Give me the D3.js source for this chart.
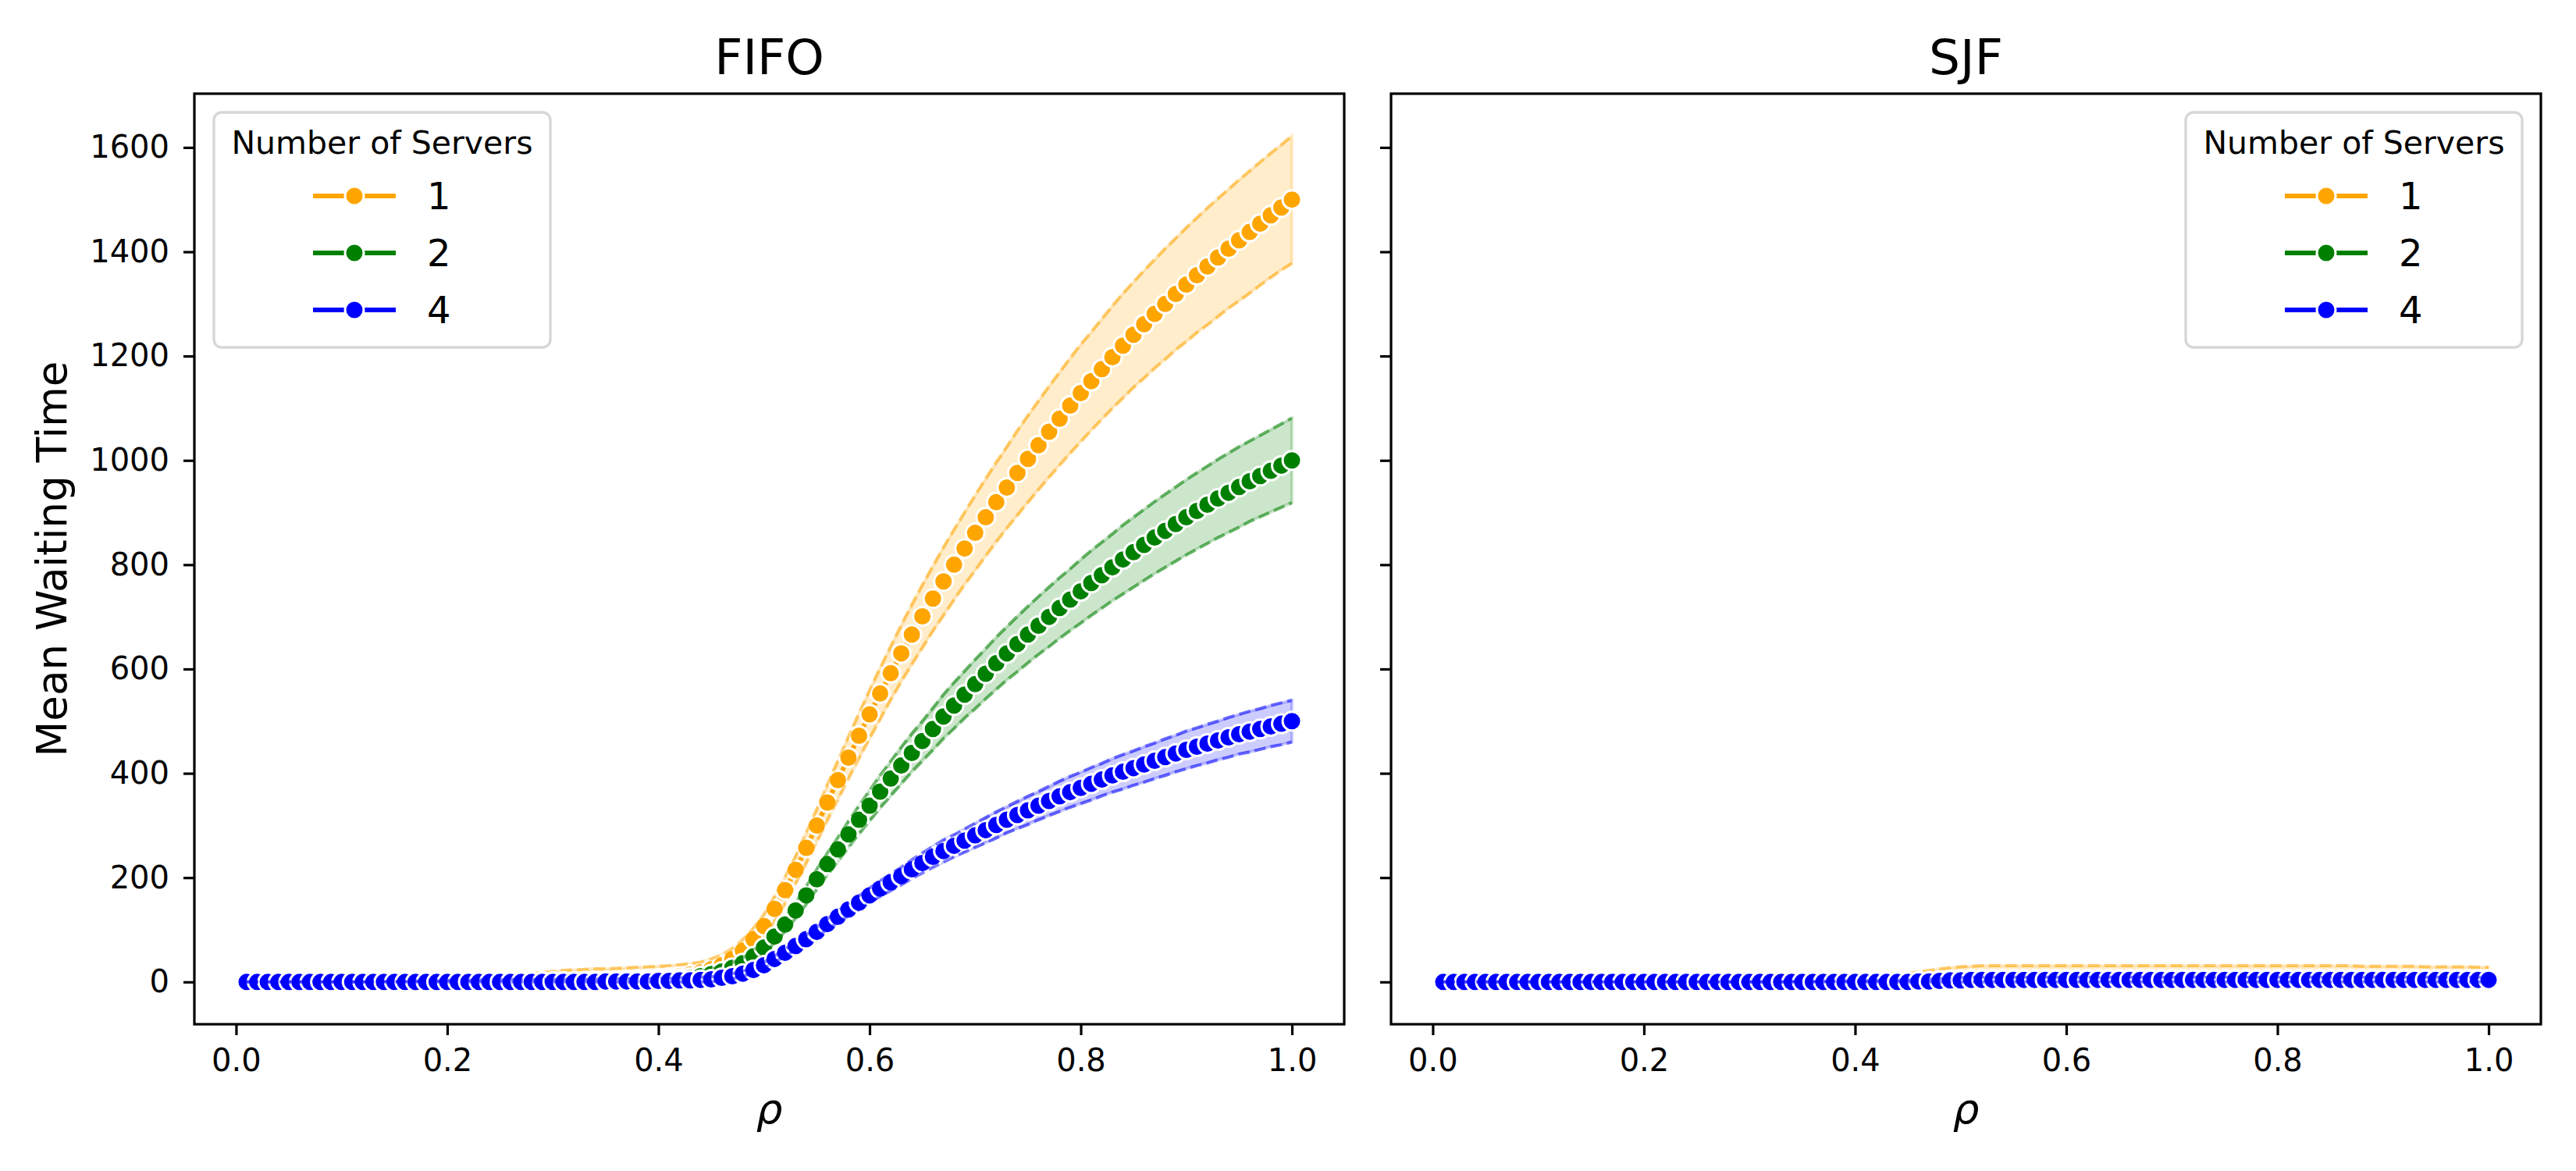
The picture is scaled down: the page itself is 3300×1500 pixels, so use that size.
<!DOCTYPE html>
<html>
<head>
<meta charset="utf-8">
<script src="https://cdn.jsdelivr.net/npm/d3@7"></script>
<style>
	html, body { margin: 0; padding: 0; background: #ffffff; }
	svg { display: block; font-family: "DejaVu Sans", sans-serif; }
</style>
</head>
<body>
<div id="chart"></div>
<script>
'use strict';

/* 	-----------------------------------
	Data
	----------------------------------- */

const rho = [
	0.01, 0.02, 0.03, 0.04, 0.05, 0.06, 0.07, 0.08, 0.09, 0.10,
	0.11, 0.12, 0.13, 0.14, 0.15, 0.16, 0.17, 0.18, 0.19, 0.20,
	0.21, 0.22, 0.23, 0.24, 0.25, 0.26, 0.27, 0.28, 0.29, 0.30,
	0.31, 0.32, 0.33, 0.34, 0.35, 0.36, 0.37, 0.38, 0.39, 0.40,
	0.41, 0.42, 0.43, 0.44, 0.45, 0.46, 0.47, 0.48, 0.49, 0.50,
	0.51, 0.52, 0.53, 0.54, 0.55, 0.56, 0.57, 0.58, 0.59, 0.60,
	0.61, 0.62, 0.63, 0.64, 0.65, 0.66, 0.67, 0.68, 0.69, 0.70,
	0.71, 0.72, 0.73, 0.74, 0.75, 0.76, 0.77, 0.78, 0.79, 0.80,
	0.81, 0.82, 0.83, 0.84, 0.85, 0.86, 0.87, 0.88, 0.89, 0.90,
	0.91, 0.92, 0.93, 0.94, 0.95, 0.96, 0.97, 0.98, 0.99, 1.00
];

const servers = ["1", "2", "4"];
const panelTitles = ["FIFO", "SJF"];
const xTicks = [0.0, 0.2, 0.4, 0.6, 0.8, 1.0];
const yTicks = [0, 200, 400, 600, 800, 1000, 1200, 1400, 1600];

// FIFO, 1 server
const fifoMean1 = [
	0, 0, 0, 0, 0, 0, 0, 0, 0, 0,
	0, 0, 0, 0, 0, 0, 0, 0, 0, 0,
	0, 0, 0, 0, 0, 1, 1, 1, 1, 1,
	1, 1, 2, 2, 2, 3, 4, 5, 6, 7,
	9, 11, 14, 18, 24, 32, 44, 60, 82, 107,
	140, 176, 215, 257, 300, 344, 387, 430, 472, 513,
	553, 592, 630, 666, 701, 735, 768, 800, 831, 861,
	891, 920, 948, 976, 1003, 1029, 1055, 1080, 1105, 1129,
	1152, 1175, 1198, 1220, 1241, 1261, 1281, 1300, 1319, 1337,
	1355, 1372, 1389, 1406, 1422, 1438, 1454, 1470, 1485, 1500
];
const fifoLow1 = [
	0, 0, 0, 0, 0, 0, 0, 0, 0, 0,
	0, 0, 0, 0, 0, 0, 0, 0, 0, 0,
	0, 0, 0, 0, 0, 0, 0, 0, 0, 0,
	0, 0, 0, 0, 0, 0, 0, 0, 0, 0,
	0, 0, 0, 0, 4, 12, 24, 39, 61, 85,
	116, 151, 189, 228, 269, 310, 350, 390, 429, 467,
	504, 541, 576, 609, 641, 673, 703, 733, 762, 789,
	817, 844, 870, 895, 920, 944, 968, 991, 1014, 1036,
	1058, 1079, 1100, 1120, 1140, 1158, 1177, 1194, 1212, 1228,
	1245, 1260, 1276, 1292, 1306, 1321, 1336, 1351, 1365, 1378
];
const fifoHigh1 = [
	0, 0, 0, 0, 0, 0, 0, 0, 0, 0,
	0, 0, 0, 0, 0, 1, 1, 2, 2, 3,
	4, 5, 7, 8, 10, 12, 14, 16, 18, 20,
	22, 23, 24, 25, 25, 26, 27, 28, 29, 30,
	31, 33, 35, 38, 44, 52, 64, 81, 103, 129,
	164, 201, 241, 286, 331, 378, 424, 470, 515, 559,
	602, 643, 684, 723, 761, 797, 833, 867, 900, 933,
	965, 996, 1026, 1057, 1086, 1114, 1142, 1169, 1196, 1222,
	1246, 1271, 1296, 1320, 1342, 1364, 1385, 1406, 1426, 1446,
	1465, 1484, 1502, 1520, 1538, 1555, 1572, 1589, 1605, 1622
];

// FIFO, 2 servers
const fifoMean2 = [
	0, 0, 0, 0, 0, 0, 0, 0, 0, 0,
	0, 0, 0, 0, 0, 0, 0, 0, 0, 0,
	0, 0, 0, 0, 0, 0, 0, 0, 1, 1,
	1, 1, 1, 1, 1, 2, 2, 2, 3, 4,
	5, 6, 8, 11, 15, 20, 27, 36, 49, 66,
	87, 110, 137, 166, 197, 226, 254, 283, 311, 338,
	365, 390, 415, 439, 462, 485, 509, 530, 551, 571,
	591, 611, 630, 648, 666, 683, 700, 717, 733, 749,
	765, 780, 795, 810, 824, 838, 852, 865, 878, 891,
	903, 915, 927, 938, 949, 960, 970, 980, 990, 1000
];
const fifoLow2 = [
	0, 0, 0, 0, 0, 0, 0, 0, 0, 0,
	0, 0, 0, 0, 0, 0, 0, 0, 0, 0,
	0, 0, 0, 0, 0, 0, 0, 0, 0, 0,
	0, 0, 0, 0, 0, 0, 0, 0, 0, 0,
	0, 0, 0, 1, 5, 10, 17, 26, 38, 55,
	75, 97, 122, 149, 178, 205, 231, 258, 284, 309,
	334, 357, 380, 403, 424, 445, 467, 486, 506, 524,
	543, 561, 579, 595, 612, 628, 643, 659, 674, 688,
	703, 717, 731, 744, 757, 770, 783, 795, 807, 819,
	830, 841, 852, 862, 872, 883, 892, 901, 910, 919
];
const fifoHigh2 = [
	0, 0, 0, 0, 0, 0, 0, 0, 0, 0,
	0, 0, 1, 1, 2, 2, 3, 3, 4, 4,
	5, 5, 6, 6, 7, 7, 8, 8, 9, 10,
	11, 11, 11, 11, 11, 12, 12, 12, 13, 14,
	15, 16, 18, 21, 25, 30, 37, 46, 60, 77,
	99, 123, 152, 183, 216, 247, 277, 308, 338, 367,
	396, 423, 450, 476, 500, 525, 551, 574, 596, 618,
	639, 661, 681, 701, 720, 739, 757, 775, 792, 810,
	827, 843, 859, 876, 891, 906, 921, 935, 949, 963,
	976, 989, 1002, 1014, 1026, 1037, 1048, 1059, 1070, 1081
];

// FIFO, 4 servers
const fifoMean4 = [
	0, 0, 0, 0, 0, 0, 0, 0, 0, 0,
	0, 0, 0, 0, 0, 0, 0, 0, 0, 0,
	0, 0, 0, 0, 0, 0, 0, 0, 0, 0,
	0, 0, 0, 0, 1, 1, 1, 1, 1, 2,
	2, 3, 3, 4, 5, 8, 11, 16, 23, 32,
	44, 56, 69, 82, 96, 111, 125, 139, 152, 166,
	179, 191, 203, 216, 228, 240, 251, 261, 271, 281,
	291, 301, 311, 320, 329, 338, 347, 356, 364, 372,
	380, 388, 396, 403, 410, 417, 424, 431, 438, 445,
	451, 457, 463, 469, 475, 480, 485, 490, 495, 500
];
const fifoLow4 = [
	0, 0, 0, 0, 0, 0, 0, 0, 0, 0,
	0, 0, 0, 0, 0, 0, 0, 0, 0, 0,
	0, 0, 0, 0, 0, 0, 0, 0, 0, 0,
	0, 0, 0, 0, 0, 0, 0, 0, 0, 0,
	0, 0, 0, 0, 0, 3, 6, 11, 18, 26,
	38, 49, 62, 74, 87, 101, 114, 127, 139, 152,
	164, 175, 186, 198, 209, 220, 230, 240, 249, 258,
	267, 276, 286, 294, 302, 311, 319, 327, 335, 342,
	349, 357, 364, 370, 377, 383, 390, 396, 403, 409,
	415, 420, 426, 431, 437, 441, 446, 451, 455, 460
];
const fifoHigh4 = [
	0, 0, 0, 0, 0, 0, 0, 0, 0, 0,
	0, 0, 0, 1, 1, 1, 2, 2, 2, 3,
	3, 3, 4, 4, 4, 5, 5, 5, 5, 5,
	5, 5, 5, 5, 6, 6, 6, 6, 6, 7,
	7, 8, 8, 9, 10, 13, 16, 21, 28, 38,
	50, 63, 76, 90, 105, 121, 136, 151, 165, 180,
	194, 207, 220, 234, 247, 260, 272, 282, 293, 304,
	315, 326, 336, 346, 356, 365, 375, 385, 394, 402,
	411, 419, 428, 436, 443, 451, 458, 466, 473, 481,
	487, 494, 500, 507, 513, 519, 524, 530, 535, 540
];

// SJF, 1 server
const sjfMean1 = [
	0, 0, 0, 0, 0, 0, 0, 0, 0, 0,
	0, 0, 0, 0, 0, 0, 0, 0, 0, 0,
	0, 0, 0, 0, 0, 0, 0, 0, 0, 0,
	0, 0, 0, 0, 0, 0, 0, 0, 0, 0,
	0, 0, 0, 0, 0, 1, 2, 3, 4, 4,
	5, 5, 5, 5, 5, 5, 5, 5, 5, 5,
	5, 5, 5, 5, 5, 5, 5, 5, 5, 5,
	5, 5, 5, 5, 5, 5, 5, 5, 5, 5,
	5, 5, 5, 5, 5, 5, 5, 5, 5, 5,
	5, 5, 5, 5, 5, 5, 5, 5, 5, 5
];
const sjfLow1 = [
	0, 0, 0, 0, 0, 0, 0, 0, 0, 0,
	0, 0, 0, 0, 0, 0, 0, 0, 0, 0,
	0, 0, 0, 0, 0, 0, 0, 0, 0, 0,
	0, 0, 0, 0, 0, 0, 0, 0, 0, 0,
	0, 0, 0, 0, 0, 0, 0, 0, 0, 0,
	0, 0, 0, 0, 0, 0, 0, 0, 0, 0,
	0, 0, 0, 0, 0, 0, 0, 0, 0, 0,
	0, 0, 0, 0, 0, 0, 0, 0, 0, 0,
	0, 0, 0, 0, 0, 0, 0, 0, 0, 0,
	0, 0, 0, 0, 0, 0, 0, 0, 0, 0
];
const sjfHigh1 = [
	0, 0, 0, 0, 0, 0, 0, 0, 0, 0,
	0, 0, 0, 0, 0, 0, 0, 1, 1, 1,
	1, 2, 2, 2, 3, 3, 3, 4, 4, 5,
	5, 6, 6, 7, 7, 8, 9, 10, 11, 12,
	13, 14, 15, 16, 17, 19, 22, 25, 27, 29,
	30, 31, 31, 31, 31, 31, 31, 31, 31, 31,
	31, 31, 31, 31, 31, 31, 31, 31, 31, 31,
	31, 31, 31, 31, 31, 31, 31, 31, 31, 31,
	31, 31, 31, 31, 31, 31, 31, 30, 30, 30,
	30, 30, 30, 29, 29, 29, 29, 29, 28, 28
];

// SJF, 2 servers
const sjfMean2 = [
	0, 0, 0, 0, 0, 0, 0, 0, 0, 0,
	0, 0, 0, 0, 0, 0, 0, 0, 0, 0,
	0, 0, 0, 0, 0, 0, 0, 0, 0, 0,
	0, 0, 0, 0, 0, 0, 0, 0, 0, 0,
	0, 0, 0, 0, 0, 1, 1, 2, 3, 4,
	4, 4, 4, 4, 4, 4, 4, 4, 4, 4,
	4, 4, 4, 4, 4, 4, 4, 4, 4, 4,
	4, 4, 4, 4, 4, 4, 4, 4, 4, 4,
	4, 4, 4, 4, 4, 4, 4, 4, 4, 4,
	4, 4, 4, 4, 4, 4, 4, 4, 4, 4
];
const sjfLow2 = [
	0, 0, 0, 0, 0, 0, 0, 0, 0, 0,
	0, 0, 0, 0, 0, 0, 0, 0, 0, 0,
	0, 0, 0, 0, 0, 0, 0, 0, 0, 0,
	0, 0, 0, 0, 0, 0, 0, 0, 0, 0,
	0, 0, 0, 0, 0, 0, 0, 0, 0, 0,
	0, 0, 0, 0, 0, 0, 0, 0, 0, 0,
	0, 0, 0, 0, 0, 0, 0, 0, 0, 0,
	0, 0, 0, 0, 0, 0, 0, 0, 0, 0,
	0, 0, 0, 0, 0, 0, 0, 0, 0, 0,
	0, 0, 0, 0, 0, 0, 0, 0, 0, 0
];
const sjfHigh2 = [
	0, 0, 0, 0, 0, 0, 0, 0, 0, 0,
	0, 0, 0, 0, 0, 0, 0, 0, 0, 0,
	0, 0, 1, 1, 1, 2, 2, 2, 3, 3,
	3, 4, 4, 5, 5, 6, 6, 7, 7, 8,
	8, 9, 9, 10, 10, 11, 12, 13, 14, 15,
	16, 16, 16, 16, 16, 16, 16, 16, 16, 16,
	16, 16, 16, 16, 16, 16, 16, 16, 16, 16,
	16, 16, 16, 16, 16, 16, 16, 16, 16, 16,
	16, 16, 16, 16, 16, 16, 16, 16, 16, 16,
	16, 16, 16, 16, 16, 16, 16, 16, 16, 16
];

// SJF, 4 servers
const sjfMean4 = [
	0, 0, 0, 0, 0, 0, 0, 0, 0, 0,
	0, 0, 0, 0, 0, 0, 0, 0, 0, 0,
	0, 0, 0, 0, 0, 0, 0, 0, 0, 0,
	0, 0, 0, 0, 0, 0, 0, 0, 0, 0,
	0, 0, 0, 0, 0, 1, 1, 2, 3, 3,
	4, 4, 4, 4, 4, 4, 4, 4, 4, 4,
	4, 4, 4, 4, 4, 4, 4, 4, 4, 4,
	4, 4, 4, 4, 4, 4, 4, 4, 4, 4,
	4, 4, 4, 4, 4, 4, 4, 4, 4, 4,
	4, 4, 4, 4, 4, 4, 4, 4, 4, 4
];
const sjfLow4 = [
	0, 0, 0, 0, 0, 0, 0, 0, 0, 0,
	0, 0, 0, 0, 0, 0, 0, 0, 0, 0,
	0, 0, 0, 0, 0, 0, 0, 0, 0, 0,
	0, 0, 0, 0, 0, 0, 0, 0, 0, 0,
	0, 0, 0, 0, 0, 0, 0, 0, 0, 0,
	0, 0, 0, 0, 0, 0, 0, 0, 0, 0,
	0, 0, 0, 0, 0, 0, 0, 0, 0, 0,
	0, 0, 0, 0, 0, 0, 0, 0, 0, 0,
	0, 0, 0, 0, 0, 0, 0, 0, 0, 0,
	0, 0, 0, 0, 0, 0, 0, 0, 0, 0
];
const sjfHigh4 = [
	0, 0, 0, 0, 0, 0, 0, 0, 0, 0,
	0, 0, 0, 0, 0, 0, 0, 0, 0, 0,
	0, 0, 0, 0, 0, 0, 0, 0, 0, 0,
	0, 0, 0, 1, 1, 1, 1, 2, 2, 2,
	2, 3, 3, 3, 4, 4, 5, 6, 7, 8,
	9, 9, 9, 9, 9, 9, 9, 9, 9, 9,
	9, 9, 9, 9, 9, 9, 9, 9, 9, 9,
	9, 9, 9, 9, 9, 9, 9, 9, 9, 9,
	9, 9, 9, 9, 9, 9, 9, 9, 9, 9,
	9, 9, 9, 9, 9, 9, 9, 9, 9, 9
];

/* 	-----------------------------------
	Layout and styles
	----------------------------------- */

const WIDTH = 3300, HEIGHT = 1500;
const TOP = 120, BOTTOM = 1312;
const colors = { "1": "orange", "2": "green", "4": "blue" };

const panels = [
	{
		title: panelTitles[0], left: 249, right: 1722, legendX: 274, yLabels: true,
		series: [
			{ key: "1", mean: fifoMean1, low: fifoLow1, high: fifoHigh1 },
			{ key: "2", mean: fifoMean2, low: fifoLow2, high: fifoHigh2 },
			{ key: "4", mean: fifoMean4, low: fifoLow4, high: fifoHigh4 }
		]
	},
	{
		title: panelTitles[1], left: 1782, right: 3255, legendX: 2800, yLabels: false,
		series: [
			{ key: "1", mean: sjfMean1, low: sjfLow1, high: sjfHigh1 },
			{ key: "2", mean: sjfMean2, low: sjfLow2, high: sjfHigh2 },
			{ key: "4", mean: sjfMean4, low: sjfLow4, high: sjfHigh4 }
		]
	}
];

// matplotlib style 5% margins around the data
const xMin = d3.min(rho), xMax = d3.max(rho);
const xPad = (xMax - xMin) * 0.05;
const allSeries = panels.flatMap(p => p.series);
const yMin = d3.min(allSeries, s => d3.min(s.low));
const yMax = d3.max(allSeries, s => d3.max(s.high));
const yPad = (yMax - yMin) * 0.05;

const y = d3.scaleLinear()
	.domain([yMin - yPad, yMax + yPad])
	.range([BOTTOM, TOP]);

const svg = d3.select("#chart").append("svg")
	.attr("width", WIDTH)
	.attr("height", HEIGHT)
	.attr("viewBox", `0 0 ${WIDTH} ${HEIGHT}`);

svg.append("rect").attr("width", WIDTH).attr("height", HEIGHT).attr("fill", "#ffffff");

panels.forEach(drawPanel);

// shared y label
svg.append("text")
	.attr("transform", `translate(85,${(TOP + BOTTOM) / 2}) rotate(-90)`)
	.attr("text-anchor", "middle")
	.attr("font-size", 53)
	.text("Mean Waiting Time");


/* 	------------------------------------------------------------------------------------
	HELPERS
	------------------------------------------------------------------------------------ */

function drawPanel(p) {
	const x = d3.scaleLinear()
		.domain([xMin - xPad, xMax + xPad])
		.range([p.left, p.right]);

	const g = svg.append("g");

	const rows = s => rho.map((r, i) => ({ r: r, m: s.mean[i], lo: s.low[i], hi: s.high[i] }));

	// error bands sit under every line (collections draw below lines)
	p.series.forEach(s => {
		g.append("path")
			.datum(rows(s))
			.attr("d", d3.area().x(d => x(d.r)).y0(d => y(d.lo)).y1(d => y(d.hi)))
			.attr("fill", colors[s.key])
			.attr("fill-opacity", 0.2)
			.attr("stroke", colors[s.key])
			.attr("stroke-opacity", 0.2)
			.attr("stroke-width", 4);
	});

	// lines, markers, then the dashed band edges, one series at a time
	p.series.forEach(s => {
		const data = rows(s);
		const c = colors[s.key];

		g.append("path")
			.datum(data)
			.attr("d", d3.line().x(d => x(d.r)).y(d => y(d.m)))
			.attr("fill", "none")
			.attr("stroke", c)
			.attr("stroke-width", 6);

		g.append("g").selectAll("circle")
			.data(data)
			.join("circle")
			.attr("cx", d => x(d.r))
			.attr("cy", d => y(d.m))
			.attr("r", 12)
			.attr("fill", c)
			.attr("stroke", "#ffffff")
			.attr("stroke-width", 3);

		["lo", "hi"].forEach(k => {
			g.append("path")
				.datum(data)
				.attr("d", d3.line().x(d => x(d.r)).y(d => y(d[k])))
				.attr("fill", "none")
				.attr("stroke", c)
				.attr("stroke-opacity", 0.5)
				.attr("stroke-width", 4)
				.attr("stroke-dasharray", "14.8,6.4");
		});
	});

	// axes
	const xAxis = d3.axisBottom(x)
		.tickValues(xTicks)
		.tickFormat(d3.format(".1f"))
		.tickSize(14)
		.tickPadding(18);

	const yAxis = d3.axisLeft(y)
		.tickValues(yTicks)
		.tickFormat(p.yLabels ? d3.format("d") : "")
		.tickSize(14)
		.tickPadding(18);

	g.append("g")
		.attr("transform", `translate(0,${BOTTOM})`)
		.call(xAxis)
		.call(styleAxis);

	g.append("g")
		.attr("transform", `translate(${p.left},0)`)
		.call(yAxis)
		.call(styleAxis);

	// spines
	g.append("rect")
		.attr("x", p.left)
		.attr("y", TOP)
		.attr("width", p.right - p.left)
		.attr("height", BOTTOM - TOP)
		.attr("fill", "none")
		.attr("stroke", "#000000")
		.attr("stroke-width", 3.2);

	// title and x label
	const cx = (p.left + p.right) / 2;
	g.append("text")
		.attr("x", cx)
		.attr("y", 95)
		.attr("text-anchor", "middle")
		.attr("font-size", 63)
		.text(p.title);

	g.append("text")
		.attr("x", cx)
		.attr("y", 1439)
		.attr("text-anchor", "middle")
		.attr("font-size", 53)
		.attr("font-style", "italic")
		.text("ρ");

	drawLegend(g, p.legendX);
}

function styleAxis(a) {
	a.attr("font-family", "DejaVu Sans").attr("font-size", 40);
	a.select(".domain").remove();
	a.selectAll(".tick line").attr("stroke", "#000000").attr("stroke-width", 3.2);
	a.selectAll(".tick text").attr("fill", "#000000");
}

function drawLegend(g, x0) {
	const lg = g.append("g").attr("transform", `translate(${x0},144)`);

	lg.append("rect")
		.attr("width", 431)
		.attr("height", 301)
		.attr("rx", 10)
		.attr("fill", "#ffffff")
		.attr("fill-opacity", 0.8)
		.attr("stroke", "#cccccc")
		.attr("stroke-opacity", 0.8)
		.attr("stroke-width", 3.3);

	lg.append("text")
		.attr("x", 215.5)
		.attr("y", 53)
		.attr("text-anchor", "middle")
		.attr("font-size", 41)
		.text("Number of Servers");

	servers.forEach((s, i) => {
		const cy = 107 + 73 * i;
		lg.append("line")
			.attr("x1", 127).attr("x2", 233)
			.attr("y1", cy).attr("y2", cy)
			.attr("stroke", colors[s])
			.attr("stroke-width", 6);
		lg.append("circle")
			.attr("cx", 180).attr("cy", cy)
			.attr("r", 12)
			.attr("fill", colors[s])
			.attr("stroke", "#ffffff")
			.attr("stroke-width", 3);
		lg.append("text")
			.attr("x", 273)
			.attr("y", cy + 17)
			.attr("font-size", 48)
			.text(s);
	});
}
</script>
</body>
</html>
